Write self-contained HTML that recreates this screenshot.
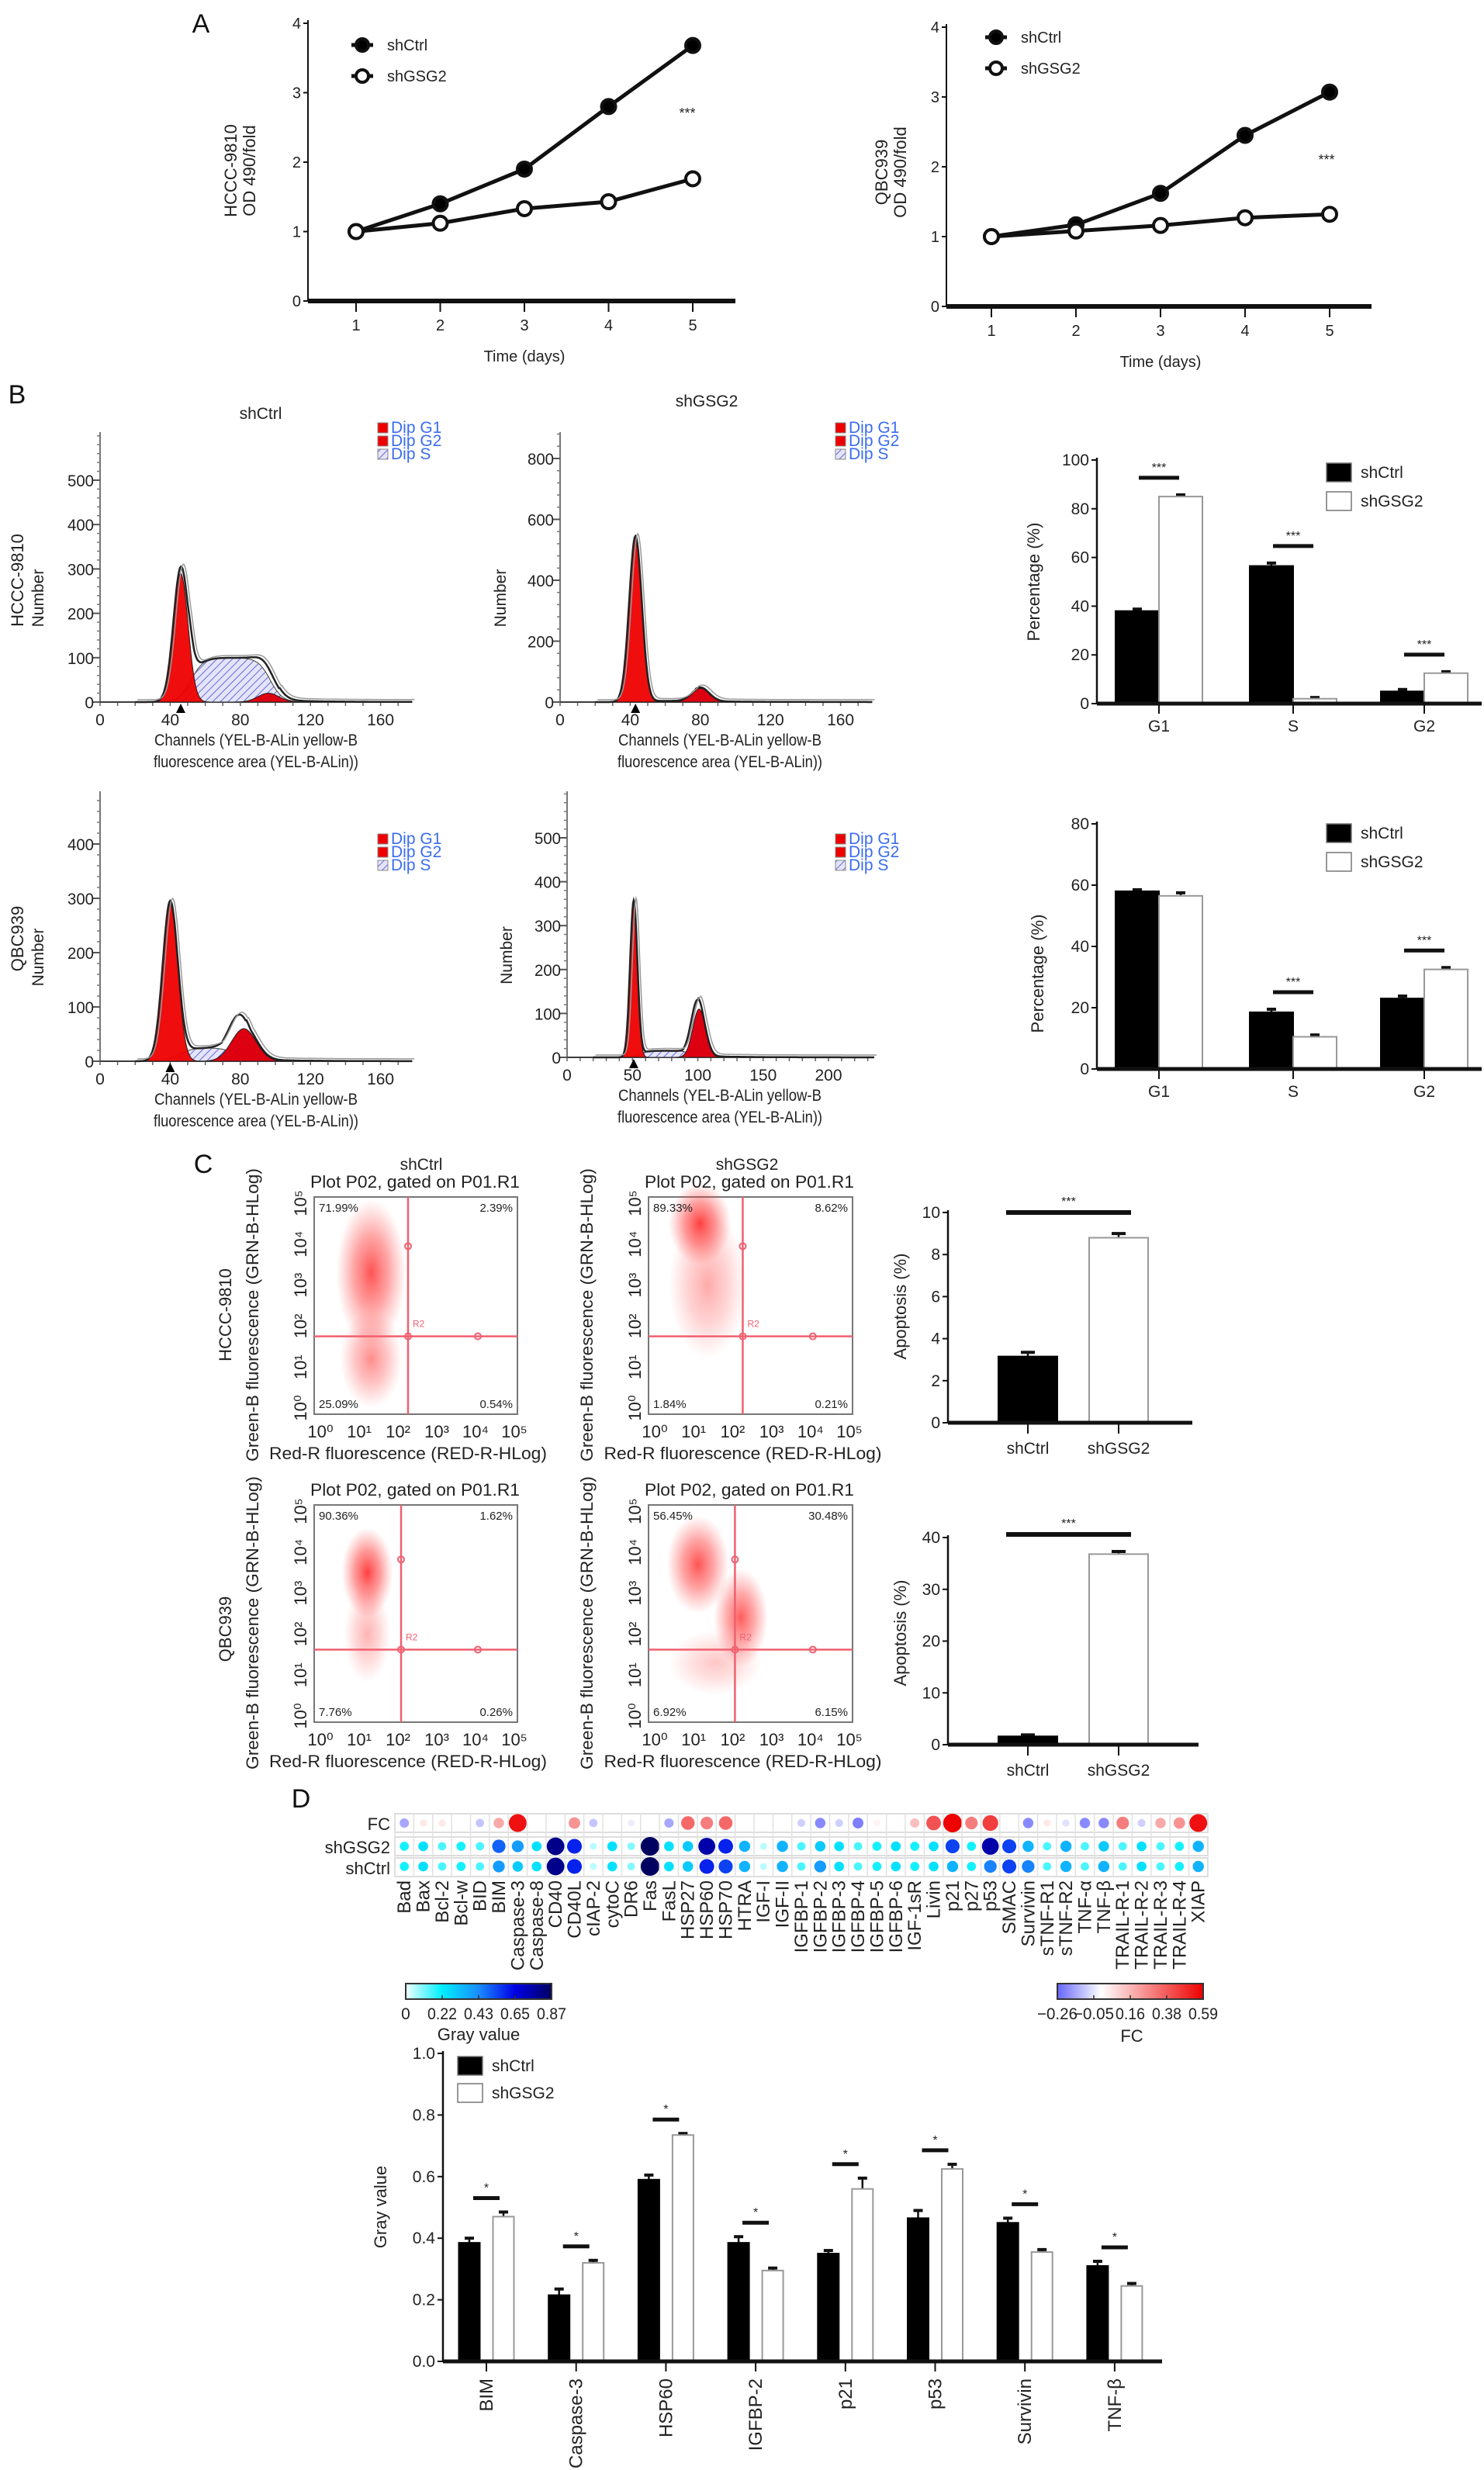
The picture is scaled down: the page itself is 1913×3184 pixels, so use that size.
<!DOCTYPE html>
<html><head><meta charset="utf-8">
<style>html,body{margin:0;background:#fff}svg{display:block;font-family:"Liberation Sans",sans-serif}</style>
</head><body>
<svg id="fig" width="1913" height="3184" viewBox="0 0 1913 3184" xmlns="http://www.w3.org/2000/svg">
<defs>
<pattern id="hatch" patternUnits="userSpaceOnUse" width="7" height="7" patternTransform="rotate(45)"><rect width="7" height="7" fill="#e4e4fa"/><line x1="0" y1="0" x2="0" y2="7" stroke="#6a6ad8" stroke-width="2"/></pattern>
<radialGradient id="redglow"><stop offset="0" stop-color="#ff0000" stop-opacity="0.75"/><stop offset="0.5" stop-color="#ff2020" stop-opacity="0.45"/><stop offset="1" stop-color="#ff4040" stop-opacity="0"/></radialGradient>
<linearGradient id="grayGrad"><stop offset="0" stop-color="#f0ffff"/><stop offset="0.25" stop-color="#00f0ff"/><stop offset="0.5" stop-color="#1a8cff"/><stop offset="0.75" stop-color="#0000e6"/><stop offset="1" stop-color="#000060"/></linearGradient>
<linearGradient id="fcGrad"><stop offset="0" stop-color="#6666ff"/><stop offset="0.3" stop-color="#ffffff"/><stop offset="1" stop-color="#ee0000"/></linearGradient>
</defs>
</svg>
<script>
// ---------- Panel A data ----------
const days=[1,2,3,4,5];
const a1Ctrl=[1,1.4,1.9,2.8,3.68];
const a1GSG2=[1,1.12,1.33,1.43,1.76];
const a2Ctrl=[1,1.17,1.62,2.45,3.07];
const a2GSG2=[1,1.08,1.16,1.27,1.32];
const aTicks=[0,1,2,3,4];
// ---------- Panel B histogram components [mu, sd, height] ----------
const h11G1=[46,4.2,290], h11S=[52,97,100,3.5], h11G2=[96,6,20], h11Out=[47,4.4,250];
const h12G1=[43,3.6,540], h12S=[50,72,4,3], h12G2=[80,5,45], h12Out=[43,3.6,545];
const h21G1=[40,4.3,290], h21S=[45,78,25,4], h21G2=[82,7,60], h21Out=[80,6.5,80];
const h22G1=[51,2.8,355], h22S=[56,95,15,3], h22G2=[101,4.8,110], h22Out=[100,5,130];
// ---------- Panel B bars ----------
const phases=['G1','S','G2'];
const b1Ctrl=[38,56.5,5], b1CtrlErr=[0.8,1.2,0.8];
const b1GSG2=[85,2,12.5], b1GSG2Err=[0.7,0.5,0.6];
const b1Sig=['***','***','***'];
const b1Ticks=[0,20,40,60,80,100];
const b2Ctrl=[58,18.5,23], b2CtrlErr=[0.5,1,0.8];
const b2GSG2=[56.5,10.5,32.5], b2GSG2Err=[1,0.6,0.6];
const b2Sig=['','***','***'];
const b2Ticks=[0,20,40,60,80];
// ---------- Panel C ----------
const cCats=['shCtrl','shGSG2'];
const c1Vals=[3.15,8.8], c1Err=[0.2,0.2], c1Ticks=[0,2,4,6,8,10];
const c2Vals=[1.6,36.8], c2Err=[0.3,0.5], c2Ticks=[0,10,20,30,40];
const q11=['71.99%','2.39%','25.09%','0.54%'];
const q12=['89.33%','8.62%','1.84%','0.21%'];
const q21=['90.36%','1.62%','7.76%','0.26%'];
const q22=['56.45%','30.48%','6.92%','6.15%'];
// clusters [logX, logY, sdX, sdY, opacity]
const s11=[[1.35,3.3,0.45,0.9,0.9],[1.35,1.2,0.4,0.6,0.6]];
const s12=[[1.2,4.5,0.4,0.5,1],[1.4,3.0,0.5,0.9,0.45]];
const s21=[[1.25,3.5,0.33,0.55,1],[1.25,2.0,0.3,0.6,0.4]];
const s22=[[1.15,3.7,0.4,0.6,0.9],[2.25,2.4,0.35,0.6,0.85],[1.6,1.3,0.6,0.4,0.3]];
// ---------- Panel D heatmap ----------
const proteins=['Bad','Bax','Bcl-2','Bcl-w','BID','BIM','Caspase-3','Caspase-8','CD40','CD40L','cIAP-2','cytoC','DR6','Fas','FasL','HSP27','HSP60','HSP70','HTRA','IGF-I','IGF-II','IGFBP-1','IGFBP-2','IGFBP-3','IGFBP-4','IGFBP-5','IGFBP-6','IGF-1sR','Livin','p21','p27','p53','SMAC','Survivin','sTNF-R1','sTNF-R2','TNF-α','TNF-β','TRAIL-R-1','TRAIL-R-2','TRAIL-R-3','TRAIL-R-4','XIAP'];
const grayGSG2=[.2,.25,.15,.2,.15,.5,.4,.25,.8,.6,.05,.25,.1,.87,.25,.3,.75,.6,.35,.05,.35,.15,.3,.25,.15,.2,.25,.2,.25,.55,.2,.75,.55,.35,.15,.35,.15,.3,.15,.25,.15,.2,.35];
const grayCtrl=[.2,.25,.15,.2,.15,.4,.3,.25,.8,.6,.05,.25,.1,.87,.25,.3,.6,.55,.35,.05,.35,.15,.4,.25,.15,.2,.25,.2,.25,.35,.2,.45,.55,.45,.15,.35,.15,.35,.15,.25,.15,.2,.35];
const fcVals=[-.15,.05,.05,0,-.1,.2,.55,0,0,.25,-.1,0,-.03,0,-.15,.35,.3,.35,0,0,0,-.08,-.2,-.08,-.22,.03,0,.15,.4,.59,.3,.45,0,-.2,.05,-.05,-.2,-.2,.3,-.08,.2,.25,.55];
const grayTicks=['0','0.22','0.43','0.65','0.87'];
const fcTicks=['−0.26','−0.05','0.16','0.38','0.59'];
// ---------- Panel D bars ----------
const dCats=['BIM','Caspase-3','HSP60','IGFBP-2','p21','p53','Survivin','TNF-β'];
const dCtrl=[.385,.215,.59,.385,.35,.465,.45,.31];
const dCtrlErr=[.015,.02,.015,.02,.01,.025,.015,.015];
const dGSG2=[.47,.32,.735,.295,.56,.625,.355,.245];
const dGSG2Err=[.015,.008,.005,.008,.035,.015,.008,.008];
const dTicks=[0,0.2,0.4,0.6,0.8,1.0];

const NS='http://www.w3.org/2000/svg';
const svg=document.getElementById('fig');
function mk(tag,attrs,parent){const e=document.createElementNS(NS,tag);for(const k in attrs)e.setAttribute(k,attrs[k]);(parent||svg).appendChild(e);return e;}
function ln(x1,y1,x2,y2,w,c){const e=mk('line',{x1:x1,y1:y1,x2:x2,y2:y2,stroke:c||'#111','stroke-width':w||2});


return e;}
function tx(x,y,s,size,anchor,rot,fill,name,len){const e=mk('text',{x:x,y:y,'font-size':size,'text-anchor':anchor||'middle',fill:fill||'#222'});
if(rot)e.setAttribute('transform','rotate('+rot+' '+x+' '+y+')');
if(len){e.setAttribute('textLength',len);e.setAttribute('lengthAdjust','spacingAndGlyphs');}
e.textContent=s;


return e;}

// ================= Panel A =================
tx(259,42,'A',34,'middle',0,'#111','panel-label-a');
function lineChart(cfg,ctrl,gsg,id){
  const ys=v=>cfg.yBase-(v/4)*(cfg.yBase-cfg.yTop);
  const xs=d=>cfg.xFirst+(d-1)*(cfg.xLast-cfg.xFirst)/4;
  ln(cfg.x0,cfg.yTop-4,cfg.x0,cfg.yBase,2);
  aTicks.forEach(t=>{ln(cfg.x0-6,ys(t),cfg.x0,ys(t),2);tx(cfg.x0-9,ys(t)+7,String(t),20,'end',0,'#222','y-tick-label');});
  ln(cfg.x0,cfg.yBase,cfg.axisEnd,cfg.yBase,6);
  days.forEach(d=>{ln(xs(d),cfg.yBase,xs(d),cfg.yBase+14,2);tx(xs(d),cfg.yBase+38,String(d),20,'middle',0,'#222','x-tick-label');});
  tx(xs(3),cfg.yBase+78,'Time (days)',20,'middle',0,'#222','x-axis-title');
  tx(cfg.ylx,cfg.yly,cfg.line1,22,'middle',-90,'#222','y-axis-title');
  tx(cfg.ylx+24,cfg.yly,'OD 490/fold',22,'middle',-90,'#222','y-axis-title');
  [[ctrl,'#000','shctrl'],[gsg,'#fff','shgsg2']].forEach(([arr,fill,nm])=>{
    const p=mk('polyline',{points:days.map((d,i)=>xs(d)+','+ys(arr[i])).join(' '),fill:'none',stroke:'#111','stroke-width':5});
    
    
    days.forEach((d,i)=>{const c=mk('circle',{cx:xs(d),cy:ys(arr[i]),r:9,fill:fill,stroke:'#111','stroke-width':4});
      
      });
  });
  [[cfg.legY,'#000','shCtrl'],[cfg.legY+40,'#fff','shGSG2']].forEach(([y,f,s])=>{
    ln(cfg.legX-14,y,cfg.legX+14,y,5);
    const c=mk('circle',{cx:cfg.legX,cy:y,r:8,fill:f,stroke:'#111','stroke-width':4});
    
    
    tx(cfg.legX+32,y+7,s,20,'start',0,'#222','legend-entry');
  });
  tx(cfg.starX,cfg.starY,'***',18,'middle',0,'#222','significance-mark');
}
lineChart({x0:397,yBase:388,yTop:30,xFirst:459,xLast:893,axisEnd:948,ylx:305,yly:220,line1:'HCCC-9810',legX:467,legY:58,starX:886,starY:152},a1Ctrl,a1GSG2,'a1');
lineChart({x0:1220,yBase:395,yTop:35,xFirst:1278,xLast:1714,axisEnd:1768,ylx:1144,yly:222,line1:'QBC939',legX:1284,legY:48,starX:1710,starY:212},a2Ctrl,a2GSG2,'a2');

// ================= Panel B histograms =================
tx(22,520,'B',34,'middle',0,'#111','panel-label-b');
const gauss=(x,p)=>p[2]*Math.exp(-((x-p[0])**2)/(2*p[1]*p[1]));
const plateau=(x,p)=>p[2]/((1+Math.exp(-(x-p[0])/p[3]))*(1+Math.exp((x-p[1])/p[3])));
function hist(cfg,G1,S,G2,Out,id){
  const X=c=>cfg.x0+c*cfg.px, Y=v=>cfg.y0-v*cfg.py;
  ln(cfg.x0,cfg.yTopPx,cfg.x0,cfg.y0,2,'#777');
  for(let v=0;cfg.y0-v*cfg.py>=cfg.yTopPx;v+=cfg.minor){ln(cfg.x0-4,Y(v),cfg.x0,Y(v),1.5,'#777');}
  cfg.yt.forEach(v=>{ln(cfg.x0-9,Y(v),cfg.x0,Y(v),2,'#555');tx(cfg.x0-8,Y(v)+8,String(v),21,'end',0,'#222','y-tick-label',v>=100?34:null);});
  ln(cfg.x0,cfg.y0,cfg.x0+cfg.xmax*cfg.px,cfg.y0,2,'#555');
  for(let c=0;c<=cfg.xmax;c+=cfg.xminor){ln(X(c),cfg.y0,X(c),cfg.y0+5,1.5,'#666');}
  cfg.xt.forEach(c=>tx(X(c),cfg.y0+30,String(c),21,'middle',0,'#222','x-tick-label'));
  const pts=f=>{let s='M'+X(0)+','+cfg.y0;for(let c=0;c<=cfg.xmax;c+=0.5)s+=' L'+X(c).toFixed(1)+','+Y(f(c)).toFixed(1);return s+' L'+X(cfg.xmax)+','+cfg.y0+' Z';};
  const sP=mk('path',{d:pts(c=>plateau(c,S)),fill:'url(#hatch)',stroke:'#443','stroke-width':1});
  
  
  const g1=mk('path',{d:pts(c=>gauss(c,G1)),fill:'#ee0000',stroke:'#222','stroke-width':1,'fill-opacity':0.95});
  
  
  const g2=mk('path',{d:pts(c=>gauss(c,G2)),fill:'#dd0011',stroke:'#222','stroke-width':1});
  
  
  const tot=c=>Math.max(gauss(c,G1)+plateau(c,S)+gauss(c,G2), gauss(c,Out)+plateau(c,S)*0.6);
  let d='';for(let c=20;c<=cfg.xmax;c+=0.5)d+=(d?' L':'M')+X(c).toFixed(1)+','+Y(tot(c)+(c>S[1]+5?4*Math.exp(-(c-S[1])/30):0)).toFixed(1);
  const o=mk('path',{d:d,fill:'none',stroke:'#222','stroke-width':2.5});
  
  
  const o2=mk('path',{d:d,fill:'none',stroke:'#999','stroke-width':1.5,transform:'translate(3,-3)'});
  
  
  const tri=mk('polygon',{points:(X(G1[0])-6)+','+(cfg.y0+14)+' '+(X(G1[0])+6)+','+(cfg.y0+14)+' '+X(G1[0])+','+(cfg.y0+2),fill:'#000'});
  
  
  [['Dip G1','#e00'],['Dip G2','#e00'],['Dip S','url(#hatch)']].forEach((l,i)=>{
    const r=mk('rect',{x:cfg.legX,y:cfg.legY+i*17-12,width:13,height:13,fill:l[1],stroke:'#888','stroke-width':1});
    
    
    tx(cfg.legX+17,cfg.legY+i*17+1,l[0],21,'start',0,'#3a6cf0','legend-entry');
  });
  tx(cfg.x0+cfg.xlabC,cfg.y0+56,'Channels (YEL-B-ALin yellow-B',21,'middle',0,'#222','x-axis-title',262);
  tx(cfg.x0+cfg.xlabC,cfg.y0+84,'fluorescence area (YEL-B-ALin))',21,'middle',0,'#222','x-axis-title',264);
  tx(cfg.numX,(cfg.yTopPx+cfg.y0)/2+40,'Number',21,'middle',-90,'#222','y-axis-title');
}
tx(336,540,'shCtrl',21,'middle',0,'#222','column-title');
tx(911,524,'shGSG2',21,'middle',0,'#222','column-title');
tx(30,748,'HCCC-9810',22,'middle',-90,'#222','row-label');
tx(30,1210,'QBC939',22,'middle',-90,'#222','row-label');
hist({x0:129,y0:905,px:2.26,py:0.572,xmax:178,yTopPx:557,minor:20,xminor:10,yt:[0,100,200,300,400,500],xt:[0,40,80,120,160],legX:487,legY:557,xlabC:201,numX:56},h11G1,h11S,h11G2,h11Out,'hist-hccc-shctrl');
hist({x0:722,y0:905,px:2.26,py:0.3925,xmax:178,yTopPx:557,minor:40,xminor:10,yt:[0,200,400,600,800],xt:[0,40,80,120,160],legX:1077,legY:557,xlabC:206,numX:652},h12G1,h12S,h12G2,h12Out,'hist-hccc-shgsg2');
hist({x0:129,y0:1368,px:2.26,py:0.70,xmax:178,yTopPx:1020,minor:20,xminor:10,yt:[0,100,200,300,400],xt:[0,40,80,120,160],legX:487,legY:1087,xlabC:201,numX:56},h21G1,h21S,h21G2,h21Out,'hist-qbc-shctrl');
hist({x0:731,y0:1363,px:1.685,py:0.566,xmax:235,yTopPx:1020,minor:20,xminor:10,yt:[0,100,200,300,400,500],xt:[0,50,100,150,200],legX:1077,legY:1087,xlabC:197,numX:660},h22G1,h22S,h22G2,h22Out,'hist-qbc-shgsg2');

// ================= generic grouped bar chart =================
function bars(cfg,cats,ctrl,ctrlE,gsg,gsgE,sig,ticks,id){
  const Y=v=>cfg.yBase-v/cfg.max*(cfg.yBase-cfg.yTop);
  ln(cfg.x0,cfg.yTop-3,cfg.x0,cfg.yBase,2.5);
  ticks.forEach(t=>{ln(cfg.x0-7,Y(t),cfg.x0,Y(t),2);tx(cfg.x0-10,Y(t)+7,cfg.fmt?cfg.fmt(t):String(t),cfg.fs||21,'end',0,'#222','y-tick-label');});
  cats.forEach((c,i)=>{
    const cx=cfg.centers[i];
    [[ctrl[i],ctrlE[i],'#000',cx-cfg.off,'shctrl'],[gsg[i],gsgE[i],'#fff',cx+cfg.off,'shgsg2']].forEach(([v,e,f,bx,nm])=>{
      ln(bx,Y(v+e),bx,Y(v),2.5);ln(bx-6,Y(v+e),bx+6,Y(v+e),4);
      const r=mk('rect',{x:bx-cfg.w/2,y:Y(v),width:cfg.w,height:cfg.yBase-Y(v),fill:f,stroke:f==='#000'?'#000':'#999','stroke-width':2});
      
      
    });
    ln(cx,cfg.yBase,cx,cfg.yBase+13,2);
    if(cfg.rotLabels)tx(cx+8,cfg.yBase+22,c,24,'end',-90,'#222','x-tick-label');
    else tx(cx,cfg.yBase+cfg.labOff,c,cfg.fs||21,'middle',0,'#222','x-tick-label');
    if(sig[i]){const top=Math.max(ctrl[i]+ctrlE[i],gsg[i]+gsgE[i]);const sy=Y(top)-cfg.sigGap;
      ln(cx-cfg.sigHalf,sy,cx+cfg.sigHalf,sy,5);tx(cx,sy-8,sig[i],16,'middle',0,'#222','significance-mark');}
  });
  ln(cfg.x0,cfg.yBase,cfg.axisEnd,cfg.yBase,5);
  if(cfg.legX){[['#000','shCtrl'],['#fff','shGSG2']].forEach((l,j)=>{
    const r=mk('rect',{x:cfg.legX,y:cfg.legY+j*cfg.legGap-12,width:32,height:24,fill:l[0],stroke:'#777','stroke-width':1.5});
    
    
    tx(cfg.legX+44,cfg.legY+j*cfg.legGap+7,l[1],21,'start',0,'#222','legend-entry');});}
  tx(cfg.ylx,cfg.yly,cfg.ytitle,22,'middle',-90,'#222','y-axis-title');
}
bars({x0:1414,yBase:907,yTop:593,max:100,centers:[1494,1667,1836],w:56,off:28,axisEnd:1910,labOff:36,sigGap:22,sigHalf:26,legX:1710,legY:609,legGap:37,ylx:1340,yly:750,ytitle:'Percentage (%)'},phases,b1Ctrl,b1CtrlErr,b1GSG2,b1GSG2Err,b1Sig,b1Ticks,'cellcycle-hccc');
bars({x0:1414,yBase:1378,yTop:1062,max:80,centers:[1494,1667,1836],w:56,off:28,axisEnd:1910,labOff:36,sigGap:22,sigHalf:26,legX:1710,legY:1074,legGap:37,ylx:1345,yly:1255,ytitle:'Percentage (%)'},phases,b2Ctrl,b2CtrlErr,b2GSG2,b2GSG2Err,b2Sig,b2Ticks,'cellcycle-qbc');

// ================= Panel C =================
tx(262,1512,'C',34,'middle',0,'#111','panel-label-c');
tx(543,1508,'shCtrl',21,'middle',0,'#222','column-title');
tx(963,1508,'shGSG2',21,'middle',0,'#222','column-title');
tx(298,1695,'HCCC-9810',22,'middle',-90,'#222','row-label');
tx(298,2100,'QBC939',22,'middle',-90,'#222','row-label');
const sup=['⁰','¹','²','³','⁴','⁵'];
function scatter(b,clusters,quads,vLog,hLog,id){
  const X=l=>b.x+6+l*(b.w-12)/5, Y=l=>b.y+b.h-8-l*(b.h-16)/5;
  const r=mk('rect',{x:b.x,y:b.y,width:b.w,height:b.h,fill:'#fff',stroke:'#777','stroke-width':2});
  
  
  clusters.forEach((c,i)=>{
    const e=mk('ellipse',{cx:X(c[0]),cy:Y(c[1]),rx:c[2]*(b.w-12)/5*2,ry:c[3]*(b.h-16)/5*2,fill:'url(#redglow)',opacity:c[4]});
    
    
  });
  ln(X(vLog),b.y,X(vLog),b.y+b.h,2.5,'#f06070');
  ln(b.x,Y(hLog),b.x+b.w,Y(hLog),2.5,'#f06070');
  [[X(vLog),Y(hLog)],[X(vLog),Y(hLog+2.2)],[X(4.1),Y(hLog)]].forEach(p=>{const c=mk('circle',{cx:p[0],cy:p[1],r:4,fill:'none',stroke:'#f06070','stroke-width':2});
    
    });
  tx(X(vLog)+6,Y(hLog)-12,'R2',12,'start',0,'#f06070','gate-label');
  tx(b.x+6,b.y+19,quads[0],15,'start',0,'#222','quadrant-percent');
  tx(b.x+b.w-6,b.y+19,quads[1],15,'end',0,'#222','quadrant-percent');
  tx(b.x+6,b.y+b.h-8,quads[2],15,'start',0,'#222','quadrant-percent');
  tx(b.x+b.w-6,b.y+b.h-8,quads[3],15,'end',0,'#222','quadrant-percent');
  for(let k=0;k<=5;k++){
    tx(X(k)+2,b.y+b.h+30,'10'+sup[k],22,'middle',0,'#222','x-tick-label');
    tx(b.x-10,Y(k),'10'+sup[k],22,'middle',-90,'#222','y-tick-label');
  }
  tx(b.x-5,b.y-12,'Plot P02, gated on P01.R1',22,'start',0,'#222','plot-title',270);
  tx(b.x+b.w/2-10,b.y+b.h+58,'Red-R fluorescence (RED-R-HLog)',22,'middle',0,'#222','x-axis-title',358);
  tx(b.x-72,b.y+b.h/2+12,'Green-B fluorescence (GRN-B-HLog)',22,'middle',-90,'#222','y-axis-title',378);
}
scatter({x:405,y:1543,w:262,h:280},s11,q11,2.3,1.75,'scatter-hccc-shctrl');
scatter({x:836,y:1543,w:263,h:280},s12,q12,2.3,1.75,'scatter-hccc-shgsg2');
scatter({x:405,y:1940,w:262,h:280},s21,q21,2.12,1.62,'scatter-qbc-shctrl');
scatter({x:836,y:1940,w:263,h:280},s22,q22,2.1,1.62,'scatter-qbc-shgsg2');
function apo(cfg,vals,err,ticks,id){
  const Y=v=>cfg.yBase-v/cfg.max*(cfg.yBase-cfg.yTop);
  ln(cfg.x0,cfg.yTop-3,cfg.x0,cfg.yBase,2.5);
  ticks.forEach(t=>{ln(cfg.x0-7,Y(t),cfg.x0,Y(t),2);tx(cfg.x0-10,Y(t)+7,String(t),21,'end',0,'#222','y-tick-label');});
  vals.forEach((v,i)=>{const cx=cfg.centers[i];
    ln(cx,Y(v+err[i]),cx,Y(v),2.5);ln(cx-9,Y(v+err[i]),cx+9,Y(v+err[i]),4);
    const r=mk('rect',{x:cx-cfg.w/2,y:Y(v),width:cfg.w,height:cfg.yBase-Y(v),fill:i?'#fff':'#000',stroke:i?'#999':'#000','stroke-width':2});
    
    
    ln(cx,cfg.yBase,cx,cfg.yBase+14,2);
    tx(cx,cfg.yBase+40,cCats[i],21,'middle',0,'#222','x-tick-label');});
  ln(cfg.x0,cfg.yBase,cfg.axisEnd,cfg.yBase,5);
  const sy=cfg.sigY;ln(cfg.centers[0]-28,sy,cfg.centers[1]+16,sy,6);tx((cfg.centers[0]+cfg.centers[1])/2-6,sy-9,'***',16,'middle',0,'#222','significance-mark');
  tx(cfg.ylx,cfg.yly,'Apoptosis (%)',22,'middle',-90,'#222','y-axis-title');
}
apo({x0:1222,yBase:1834,yTop:1563,max:10,centers:[1325,1442],w:76,axisEnd:1537,sigY:1563,ylx:1168,yly:1684},c1Vals,c1Err,c1Ticks,'apoptosis-hccc');
apo({x0:1222,yBase:2249,yTop:1982,max:40,centers:[1325,1442],w:76,axisEnd:1545,sigY:1978,ylx:1168,yly:2105},c2Vals,c2Err,c2Ticks,'apoptosis-qbc');

// ================= Panel D heatmap =================
tx(388,2330,'D',34,'middle',0,'#111','panel-label-d');
const hx0=509, cw=24.37;
const rowsY=[2350,2380,2406];
function lerp(a,b,t){return a.map((v,i)=>Math.round(v+(b[i]-v)*t));}
function grayCol(v){const st=[[240,255,255],[0,240,255],[26,140,255],[0,0,230],[0,0,96]];const t=Math.min(v/0.87,1)*4;const k=Math.min(Math.floor(t),3);const c=lerp(st[k],st[k+1],t-k);return 'rgb('+c+')';}
function fcCol(v){let c;if(v<0)c=lerp([255,255,255],[102,102,255],Math.min(-v/0.26,1));else c=lerp([255,255,255],[238,0,0],Math.min(v/0.59,1));return 'rgb('+c+')';}
[['FC',2338],['shGSG2',2368],['shCtrl',2395]].forEach(r=>{
  const bg=mk('rect',{x:hx0,y:r[1],width:cw*proteins.length,height:24,fill:'#fff',stroke:'#ddd','stroke-width':2});
  
  
});
tx(503,2359,'FC',22,'end',0,'#222','row-label');
tx(503,2389,'shGSG2',22,'end',0,'#222','row-label');
tx(503,2416,'shCtrl',22,'end',0,'#222','row-label');
proteins.forEach((p,i)=>{
  const cx=hx0+cw*(i+0.5);
  ln(hx0+cw*i,2338,hx0+cw*i,2419,1.5,'#e2e2e2');
  const f=mk('circle',{cx:cx,cy:rowsY[0],r:4+Math.abs(fcVals[i])/0.59*8,fill:fcCol(fcVals[i])});
  
  
  const g=mk('circle',{cx:cx,cy:rowsY[1],r:4+grayGSG2[i]/0.87*8,fill:grayCol(grayGSG2[i])});
  
  
  const c=mk('circle',{cx:cx,cy:rowsY[2],r:4+grayCtrl[i]/0.87*8,fill:grayCol(grayCtrl[i])});
  
  
  tx(cx+8,2424,p,24,'end',-90,'#222','protein-label');
});
const gb=mk('rect',{x:523,y:2557,width:188,height:20,fill:'url(#grayGrad)',stroke:'#333','stroke-width':2});


grayTicks.forEach((t,i)=>{const x=523+i*47;ln(x,2572,x,2577,1.5,'#333');tx(x,2603,t,21,'middle',0,'#222','colorbar-tick',t.length>1?38:null);});
tx(617,2630,'Gray value',22,'middle',0,'#222','colorbar-title');
const fb=mk('rect',{x:1363,y:2557,width:188,height:20,fill:'url(#fcGrad)',stroke:'#333','stroke-width':2});


fcTicks.forEach((t,i)=>{const x=1363+i*47;ln(x,2572,x,2577,1.5,'#333');tx(x,2603,t,21,'middle',0,'#222','colorbar-tick',t.length>4?52:38);});
tx(1459,2632,'FC',22,'middle',0,'#222','colorbar-title');

// ================= Panel D bar chart =================
bars({x0:571,yBase:3044,yTop:2647,max:1.0,centers:dCats.map((c,i)=>627+i*115.7),w:27,off:22,axisEnd:1498,rotLabels:true,sigGap:18,sigHalf:17,legX:590,legY:2663,legGap:35,ylx:498,yly:2845,ytitle:'Gray value',fmt:t=>t.toFixed(1),fs:21},dCats,dCtrl,dCtrlErr,dGSG2,dGSG2Err,dCats.map(()=>'*'),dTicks,'gray-value');
</script>
</body></html>
